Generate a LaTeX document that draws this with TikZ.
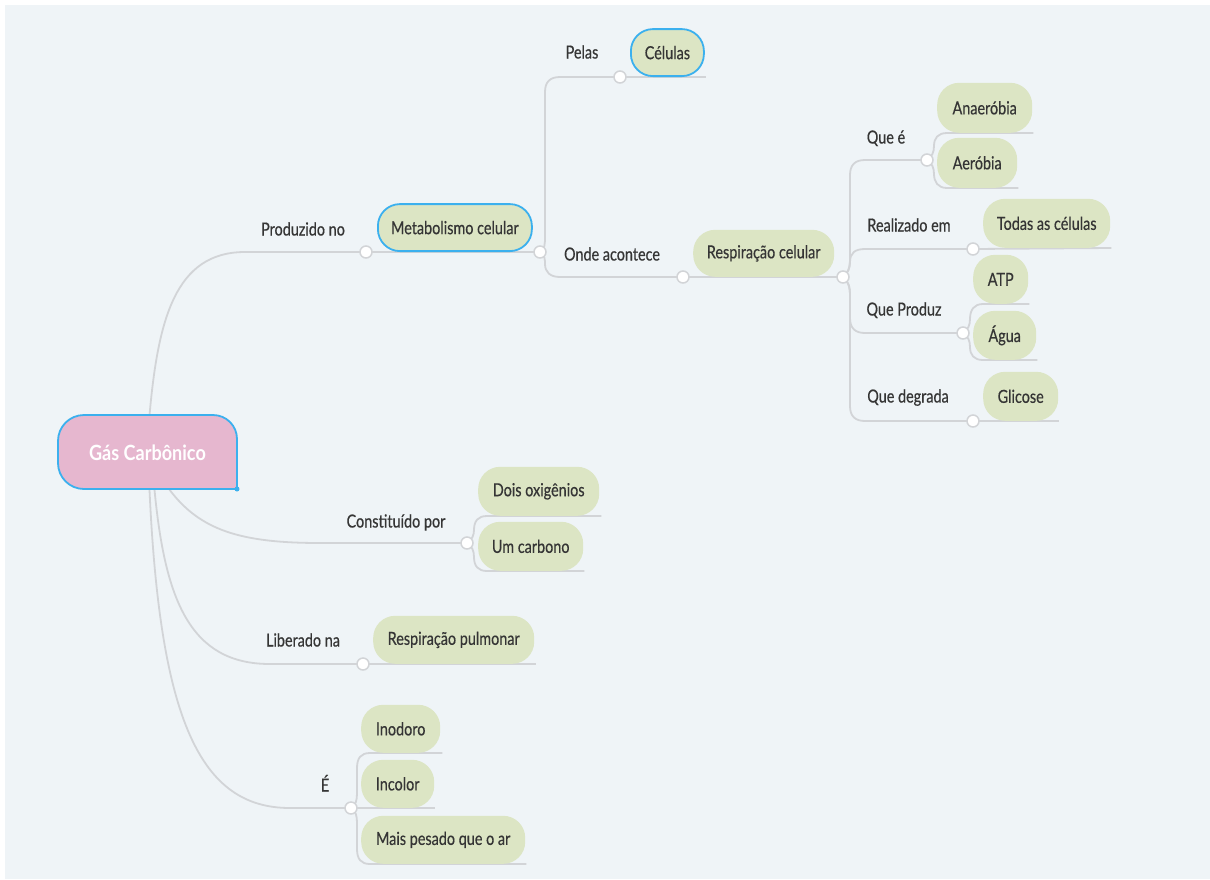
\documentclass[tikz,border=0pt]{standalone}
\usepackage{fontspec}
\setmainfont{Lato}
\newfontfamily\medfont{Lato}[FakeBold=0.5]
\definecolor{bgc}{HTML}{EFF4F7}
\definecolor{linec}{HTML}{D2D4D7}
\definecolor{greenc}{HTML}{DCE5C4}
\definecolor{textc}{HTML}{353535}
\definecolor{bluec}{HTML}{3BB0EE}
\definecolor{pinkc}{HTML}{E6B7CF}
\newcommand{\sqz}[1]{\scalebox{0.8}[1]{#1}}
\newcommand{\rootsq}[1]{\scalebox{0.86}[1]{#1}}
\newcommand{\tfont}{\medfont\fontsize{18}{20}\selectfont}
\pgfdeclarelayer{back}
\pgfdeclarelayer{lines}
\pgfsetlayers{back,lines,main}
\tikzset{
  conn/.style={draw=linec, line width=1.8pt},
  dotc/.style={circle, draw=linec, fill=white, line width=1.5pt, minimum size=12pt, inner sep=0pt},
  topic/.style={fill=greenc, rounded corners=22pt, text=textc, font=\tfont, inner sep=0pt, anchor=south west},
  seltopic/.style={topic, draw=bluec, line width=1.8pt},
  lab/.style={text=textc, font=\tfont, inner sep=0pt, text height=13pt, text depth=4pt},
}
\begin{document}
\begin{tikzpicture}[x=1pt,y=-1pt]
\useasboundingbox (0,0) rectangle (1210,879);
\begin{pgfonlayer}{back}
\fill[white] (0,0) rectangle (1210,879);
\fill[bgc] (5,5) rectangle (1210,879);
\end{pgfonlayer}

% root
\filldraw[fill=pinkc, draw=bluec, line width=1.8pt]
  (237,489) -- (84,489) .. controls (69.6,489) and (58,477.4) .. (58,463)
  -- (58,441) .. controls (58,426.6) and (69.6,415) .. (84,415)
  -- (213,415) .. controls (226.3,415) and (237,425.7) .. (237,439) -- cycle;
\fill[bluec] (237,489) circle (2.5);
\node[minimum width=179pt, minimum height=74pt, inner sep=0pt, text=white, font=\fontsize{21}{23}\selectfont\bfseries] (root) at (147.5,452.5) {\rootsq{Gás Carbônico}};

% topics
\node[seltopic, minimum width=154pt, minimum height=47pt] (meta) at (377,252) {\sqz{Metabolismo celular}};
\node[seltopic, minimum width=73pt, minimum height=47pt] (cel) at (630,77) {\sqz{Células}};
\node[topic, minimum width=141pt, minimum height=47pt] (resp) at (693,277) {\sqz{Respiração celular}};
\node[topic, minimum width=95pt, minimum height=50pt] (anae) at (937,133) {\sqz{Anaeróbia}};
\node[topic, minimum width=80pt, minimum height=50pt] (aero) at (937,188) {\sqz{Aeróbia}};
\node[topic, minimum width=127pt, minimum height=49pt] (todas) at (983,248) {\sqz{Todas as células}};
\node[topic, minimum width=55pt, minimum height=49pt] (atp) at (973,304) {\sqz{ATP}};
\node[topic, minimum width=63pt, minimum height=49pt] (agua) at (973,360) {\sqz{Água}};
\node[topic, minimum width=75pt, minimum height=49pt] (glic) at (983,421) {\sqz{Glicose}};
\node[topic, minimum width=121pt, minimum height=49pt] (dois) at (478,516) {\sqz{Dois oxigênios}};
\node[topic, minimum width=105pt, minimum height=49pt] (um) at (478,571) {\sqz{Um carbono}};
\node[topic, minimum width=161pt, minimum height=48pt] (pulm) at (373,664) {\sqz{Respiração pulmonar}};
\node[topic, minimum width=79pt, minimum height=48pt] (inod) at (361,753) {\sqz{Inodoro}};
\node[topic, minimum width=73pt, minimum height=48pt] (incol) at (361,808) {\sqz{Incolor}};
\node[topic, minimum width=164pt, minimum height=48pt] (mais) at (361,864) {\sqz{Mais pesado que o ar}};

% labels
\node[lab] (lPel) at (582,54) {\sqz{Pelas}};
\node[lab] (lPro) at (303,231) {\sqz{Produzido no}};
\node[lab] (lOnd) at (612,256) {\sqz{Onde acontece}};
\node[lab] (lQue) at (886,139) {\sqz{Que é}};
\node[lab] (lRea) at (909,227) {\sqz{Realizado em}};
\node[lab] (lQP) at (904,311) {\sqz{Que Produz}};
\node[lab] (lQD) at (908,398) {\sqz{Que degrada}};
\node[lab] (lCon) at (396,523) {\sqz{Constituído por}};
\node[lab] (lLib) at (303,642) {\sqz{Liberado na}};
\node[lab] (lE) at (325,787) {\sqz{É}};

% circles
\node[dotc] (dPN) at (366,252) {};
\node[dotc] (dM) at (540,252) {};
\node[dotc] (dPe) at (620,77) {};
\node[dotc] (dOA) at (683,277) {};
\node[dotc] (dRC) at (843,277) {};
\node[dotc] (dQE) at (927,160) {};
\node[dotc] (dRE) at (973,249) {};
\node[dotc] (dQP) at (963,333) {};
\node[dotc] (dQD) at (973,421) {};
\node[dotc] (dCP) at (467,543) {};
\node[dotc] (dLN) at (363,664) {};
\node[dotc] (dE) at (351,808) {};

\begin{pgfonlayer}{lines}
% main branches from root
\draw[conn] ([xshift=2pt]root.north) .. controls (158,320) and (175,252) .. (245,252) -- (dPN.center);
\draw[conn] ([xshift=22pt]root.south) .. controls (200,530) and (240,543) .. (320,543) -- (dCP.center);
\draw[conn] ([xshift=7pt]root.south) .. controls (165,600) and (190,664) .. (270,664) -- (dLN.center);
\draw[conn] ([xshift=2pt]root.south) .. controls (160,720) and (200,808) .. (290,808) -- (dE.center);
% metabolismo
\draw[conn] (dPN.center) -- (dM.center);
\draw[conn] (dM.center) .. controls (545,249) and (545,244) .. (545,236) -- (545,92) .. controls (545,82) and (550,77) .. (560,77) -- (dPe.center);
\draw[conn] (dM.center) .. controls (545,255) and (545,260) .. (545,264) .. controls (545,272) and (550,277) .. (560,277) -- (dOA.center);
\draw[conn] (dPe.center) -- ([xshift=1pt]cel.south east);
\draw[conn] (dOA.center) -- (dRC.center);
% respiracao celular
\draw[conn] (dRC.center) .. controls (848,273) and (850,268) .. (850,258) -- (850,175) .. controls (850,165) and (855,160) .. (865,160) -- (dQE.center);
\draw[conn] (dRC.center) .. controls (848,273) and (850,268) .. (850,262) .. controls (850,253) and (855,249) .. (865,249) -- (dRE.center);
\draw[conn] (dRC.center) .. controls (848,281) and (850,286) .. (850,296) -- (850,318) .. controls (850,328) and (855,333) .. (865,333) -- (dQP.center);
\draw[conn] (dRC.center) .. controls (848,281) and (850,286) .. (850,296) -- (850,406) .. controls (850,416) and (855,421) .. (865,421) -- (dQD.center);
\draw[conn] (dQE.center) .. controls (932,157) and (934,152) .. (934,146) .. controls (934,138) and (938,133) .. (947,133) -- ([xshift=1pt]anae.south east);
\draw[conn] (dQE.center) .. controls (932,163) and (934,168) .. (934,174) .. controls (934,182) and (938,188) .. (947,188) -- ([xshift=1pt]aero.south east);
\draw[conn] (dRE.center) -- ([xshift=1pt]todas.south east);
\draw[conn] (dQP.center) .. controls (968,330) and (970,325) .. (970,319) .. controls (970,310) and (974,304) .. (983,304) -- ([xshift=1pt]atp.south east);
\draw[conn] (dQP.center) .. controls (968,336) and (970,341) .. (970,347) .. controls (970,355) and (974,360) .. (983,360) -- ([xshift=1pt]agua.south east);
\draw[conn] (dQD.center) -- ([xshift=1pt]glic.south east);
% constituido
\draw[conn] (dCP.center) .. controls (472,540) and (474,535) .. (474,530) .. controls (474,521) and (478,516) .. (487,516) -- ([xshift=2pt]dois.south east);
\draw[conn] (dCP.center) .. controls (472,546) and (474,551) .. (474,557) .. controls (474,566) and (478,571) .. (487,571) -- ([xshift=1pt]um.south east);
% liberado
\draw[conn] (dLN.center) -- ([xshift=2pt]pulm.south east);
% E
\draw[conn] (dE.center) .. controls (356,805) and (357,800) .. (357,793) -- (357,768) .. controls (357,758) and (361,753) .. (370,753) -- ([xshift=2pt]inod.south east);
\draw[conn] (dE.center) -- ([xshift=1pt]incol.south east);
\draw[conn] (dE.center) .. controls (356,811) and (357,816) .. (357,823) -- (357,849) .. controls (357,859) and (361,864) .. (370,864) -- ([xshift=1pt]mais.south east);
\end{pgfonlayer}
\end{tikzpicture}
\end{document}
